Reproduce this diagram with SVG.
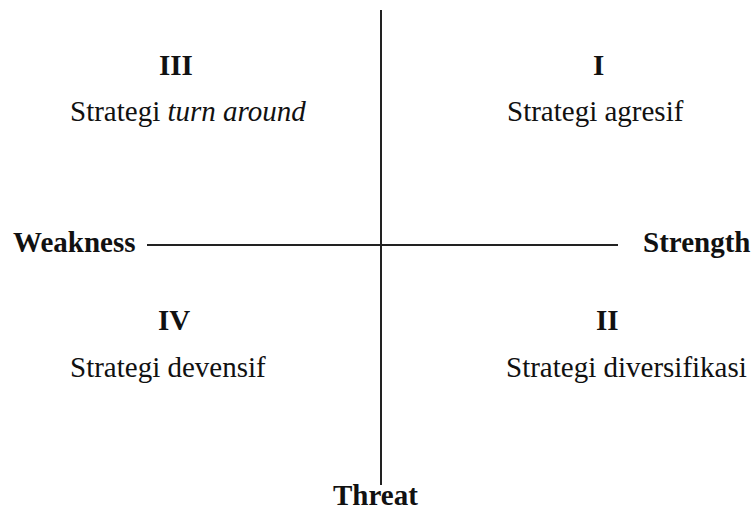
<svg xmlns="http://www.w3.org/2000/svg" width="751" height="511" viewBox="0 0 751 511">
<style>
text { font-family: "Liberation Serif", "Times New Roman", serif; font-size: 29px; fill: #111; }
.b { font-weight: bold; }
.ax { stroke: #222; stroke-width: 2; fill: none; }
</style>
<rect width="751" height="511" fill="#fff"/>
<g id="connectors">
<line class="ax" x1="381" y1="10" x2="381" y2="485"/>
<line class="ax" x1="147" y1="245" x2="618" y2="245"/>
</g>
<g id="q3"><text class="b" x="159" y="75">III</text><text x="70" y="121">Strategi <tspan font-style="italic">turn around</tspan></text></g>
<g id="q1"><text class="b" x="593" y="75">I</text><text x="507" y="121">Strategi agresif</text></g>
<g id="q4"><text class="b" x="158" y="330">IV</text><text x="70" y="377">Strategi devensif</text></g>
<g id="q2"><text class="b" x="596" y="330">II</text><text x="506" y="377">Strategi diversifikasi</text></g>
<g id="weakness"><text class="b" x="13" y="252">Weakness</text></g>
<g id="strength"><text class="b" x="643" y="252">Strength</text></g>
<g id="threat"><text class="b" x="333" y="505">Threat</text></g>
</svg>
